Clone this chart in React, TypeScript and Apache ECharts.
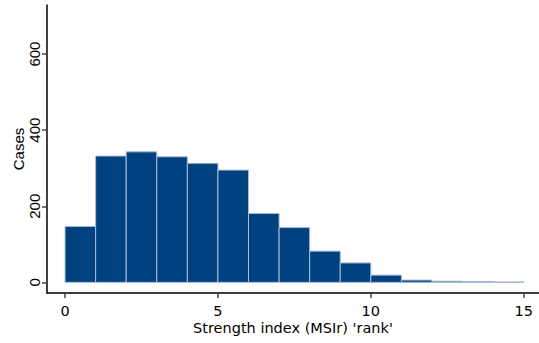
import React, { useEffect, useRef } from "react";
import * as echarts from "echarts";

const binStarts = [0, 1, 2, 3, 4, 5, 6, 7, 8, 9, 10, 11, 12, 13, 14];
const binWidth = 1;
const counts = [147, 332, 343, 330, 313, 295, 181, 144, 82, 51, 19, 6, 3, 2, 1];
const xTicks = [0, 5, 10, 15];
const yTicks = [0, 200, 400, 600];

export default function App() {
  const ref = useRef<HTMLDivElement>(null);
  useEffect(() => {
    if (!ref.current) return;
    const chart = echarts.init(ref.current, undefined, { renderer: "svg" });
    const data = binStarts.map((s, i) => [s, counts[i], s + binWidth]);
    chart.setOption({
      animation: false,
      backgroundColor: "#ffffff",
      grid: { left: 47, right: 0, top: 5, bottom: 50, outerBoundsMode: "none", containLabel: false },
      xAxis: {
        type: "value",
        min: -0.59,
        max: 15.5,
        name: "Strength index (MSIr) 'rank'",
        nameLocation: "middle",
        nameGap: 27,
        nameMoveOverlap: false,
        nameTextStyle: { fontFamily: "DejaVu Sans", fontSize: 14.5, color: "#000" },
        axisLine: { show: true, onZero: false, lineStyle: { color: "#000", width: 1.5 } },
        axisTick: { show: true, customValues: xTicks, length: 5, lineStyle: { color: "#444", width: 1.5 } },
        axisLabel: { customValues: xTicks, margin: 10, fontFamily: "DejaVu Sans", fontSize: 14.5, color: "#000" },
        splitLine: { show: false },
      },
      yAxis: {
        type: "value",
        min: -28,
        max: 729,
        name: "Cases",
        nameLocation: "middle",
        nameRotate: 90,
        nameGap: 21,
        nameMoveOverlap: false,
        nameTextStyle: { fontFamily: "Liberation Sans", fontSize: 15, color: "#000" },
        axisLine: { show: true, onZero: false, lineStyle: { color: "#000", width: 1.5 } },
        axisTick: { show: true, customValues: yTicks, length: 5, lineStyle: { color: "#444", width: 1.5 } },
        axisLabel: {
          customValues: yTicks,
          rotate: 90,
          margin: 13,
          align: "center",
          verticalAlign: "middle",
          fontFamily: "Liberation Sans",
          fontSize: 15,
          color: "#000",
        },
        splitLine: { show: false },
      },
      series: [
        {
          type: "custom",
          data,
          encode: { x: [0, 2], y: 1 },
          renderItem: (params: any, api: any) => {
            const x0 = api.value(0);
            const y = api.value(1);
            const x1 = api.value(2);
            const p0 = api.coord([x0, y]);
            const p1 = api.coord([x1, 0]);
            return {
              type: "rect",
              shape: { x: p0[0], y: p0[1], width: p1[0] - p0[0], height: p1[1] - p0[1] },
              style: { fill: "#02417f", stroke: "#a3bdd8", lineWidth: 1 },
            };
          },
        },
      ],
    });
    return () => chart.dispose();
  }, []);
  return <div ref={ref} style={{ width: 539, height: 343, position: "absolute", left: 0, top: 0 }} />;
}
